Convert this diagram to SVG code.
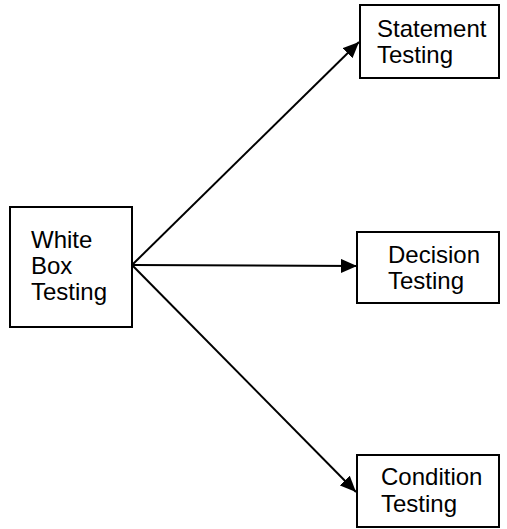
<svg xmlns="http://www.w3.org/2000/svg" width="507" height="529" viewBox="0 0 507 529">
<style>
.box{fill:#fff;stroke:#000;stroke-width:2}
.t{font-family:"Liberation Sans",Arial,sans-serif;font-size:24px;fill:#000}
.c{stroke:#000;stroke-width:2;fill:none}
</style>
<defs>
<marker id="ah" viewBox="0 0 16 14" refX="16" refY="7" markerWidth="16" markerHeight="14" markerUnits="userSpaceOnUse" orient="auto">
<path d="M0,0 L16,7 L0,14 z" fill="#000"/>
</marker>
</defs>
<rect width="507" height="529" fill="#fff"/>
<g id="connectors">
<line class="c" x1="132" y1="265" x2="359" y2="42" marker-end="url(#ah)"/>
<line class="c" x1="132" y1="265" x2="357" y2="266" marker-end="url(#ah)"/>
<line class="c" x1="132" y1="265" x2="356" y2="492" marker-end="url(#ah)"/>
</g>
<g id="white-box">
<rect class="box" x="10" y="207" width="122" height="120"/>
<text class="t" x="31" y="248">White</text>
<text class="t" x="31" y="274">Box</text>
<text class="t" x="31" y="300">Testing</text>
</g>
<g id="statement">
<rect class="box" x="360" y="5" width="139" height="73"/>
<text class="t" x="377" y="37">Statement</text>
<text class="t" x="377" y="63">Testing</text>
</g>
<g id="decision">
<rect class="box" x="357" y="232" width="142" height="71"/>
<text class="t" x="388" y="263">Decision</text>
<text class="t" x="388" y="289">Testing</text>
</g>
<g id="condition">
<rect class="box" x="357" y="455" width="142" height="72"/>
<text class="t" x="381" y="485">Condition</text>
<text class="t" x="381" y="512">Testing</text>
</g>
</svg>
